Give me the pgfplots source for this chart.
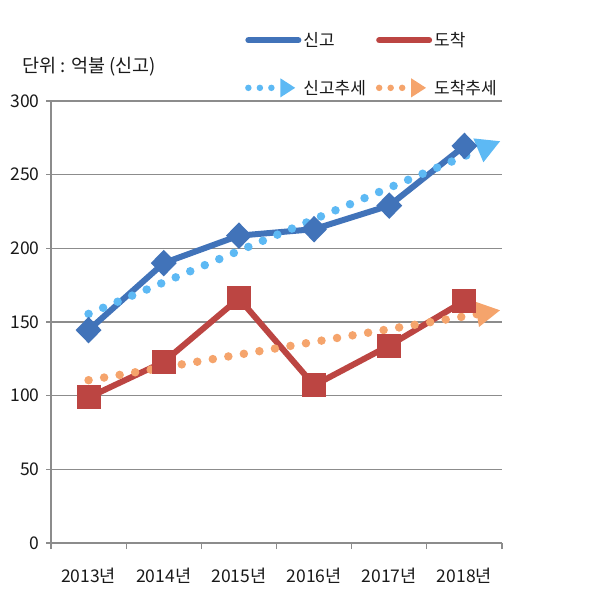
\documentclass[border=0pt]{standalone}
\usepackage{fontspec}
\setmainfont{Noto Sans CJK KR}
\usepackage{pgfplots}
\pgfplotsset{compat=1.18}
\usetikzlibrary{arrows.meta}
\definecolor{sblue}{HTML}{4173B9}
\definecolor{sred}{HTML}{BC4542}
\definecolor{tblue}{HTML}{5DB9F4}
\definecolor{torange}{HTML}{F5A46C}
\definecolor{gridc}{HTML}{8C8C8C}
\pgfplotstableread{
x y
0 144.5
1 190
2 208.6
3 213
4 229
5 269.5
}\singo
\pgfplotstableread{
x y
0 98.8
1 122.9
2 166
3 107
4 134
5 164.3
}\dochak
\pgfplotstableread{
x y
0 155.5
5.48 272.8
}\singotrend
\pgfplotstableread{
x y
0 110.5
5.48 158.0
}\dochaktrend
\begin{document}
\begin{tikzpicture}[x=1bp,y=1bp]
\path[use as bounding box] (0,0) rectangle (614,612);
\begin{axis}[
  at={(51bp,69bp)}, anchor=south west,
  scale only axis, width=451bp, height=442bp,
  xmin=-0.5, xmax=5.5, ymin=0, ymax=300,
  clip=false,
  axis x line*=bottom, axis y line*=left,
  axis line style={draw=gridc, line width=1.2bp},
  ymajorgrids, grid style={draw=gridc, line width=1.2bp},
  ytick={0,50,...,300},
  xtick={0,...,5},
  xticklabels={2013년,2014년,2015년,2016년,2017년,2018년},
  minor xtick={-0.5,0.5,...,5.5},
  major x tick style={draw=none},
  minor x tick style={draw=gridc, line width=1.2bp},
  y tick style={draw=gridc, line width=1.2bp},
  tick align=outside,
  major tick length=5bp, minor tick length=6bp,
  /pgf/number format/assume math mode=true,
  tick label style={font=\fontsize{17.5bp}{20bp}\selectfont, text=black!90},
  xticklabel style={yshift=-17bp},
  yticklabel style={xshift=-3bp},
  legend columns=2,
  legend style={at={(axis description cs:0.43,1.16)}, anchor=north west,
    draw=none, fill=none, inner sep=0pt,
    font=\fontsize{17bp}{20bp}\selectfont, text=black!90,
    /tikz/every even column/.append style={column sep=8bp},
    row sep=28bp},
  legend cell align=left,
]
\addplot[sblue, line width=6bp, mark=diamond*, mark size=9bp, mark options={solid, xscale=1.3},
  legend image code/.code={\draw[sblue, line width=6bp, line cap=round] (0bp,0bp) -- (50bp,0bp);}]
  table[x=x,y=y] {\singo};
\addlegendentry{신고}
\addplot[sred, line width=6bp, mark=square*, mark size=9bp, mark options={solid},
  legend image code/.code={\draw[sred, line width=6bp, line cap=round] (0bp,0bp) -- (50bp,0bp);}]
  table[x=x,y=y] {\dochak};
\addlegendentry{도착}
\addplot[tblue, line width=8.5bp, line cap=round, dash pattern=on 0bp off 15.75bp,
  -{Triangle[length=24bp,width=24bp]},
  legend image code/.code={\draw[tblue, line width=6.5bp, line cap=round, dash pattern=on 0bp off 11.5bp, -{Triangle[length=15bp,width=18bp]}] (0bp,0bp) -- (47bp,0bp);}]
  table[x=x,y=y] {\singotrend};
\addlegendentry{신고추세}
\addplot[torange, line width=8.5bp, line cap=round, dash pattern=on 0bp off 15.75bp,
  -{Triangle[length=24bp,width=24bp]},
  legend image code/.code={\draw[torange, line width=6.5bp, line cap=round, dash pattern=on 0bp off 11.5bp, -{Triangle[length=15bp,width=18bp]}] (0bp,0bp) -- (47bp,0bp);}]
  table[x=x,y=y] {\dochaktrend};
\addlegendentry{도착추세}
\node[anchor=west, font=\fontsize{18.5bp}{21bp}\selectfont, text=black!90, inner sep=0pt]
  at (axis description cs:-0.064,1.077) {단위 : 억불 (신고)};
\end{axis}
\end{tikzpicture}
\end{document}
